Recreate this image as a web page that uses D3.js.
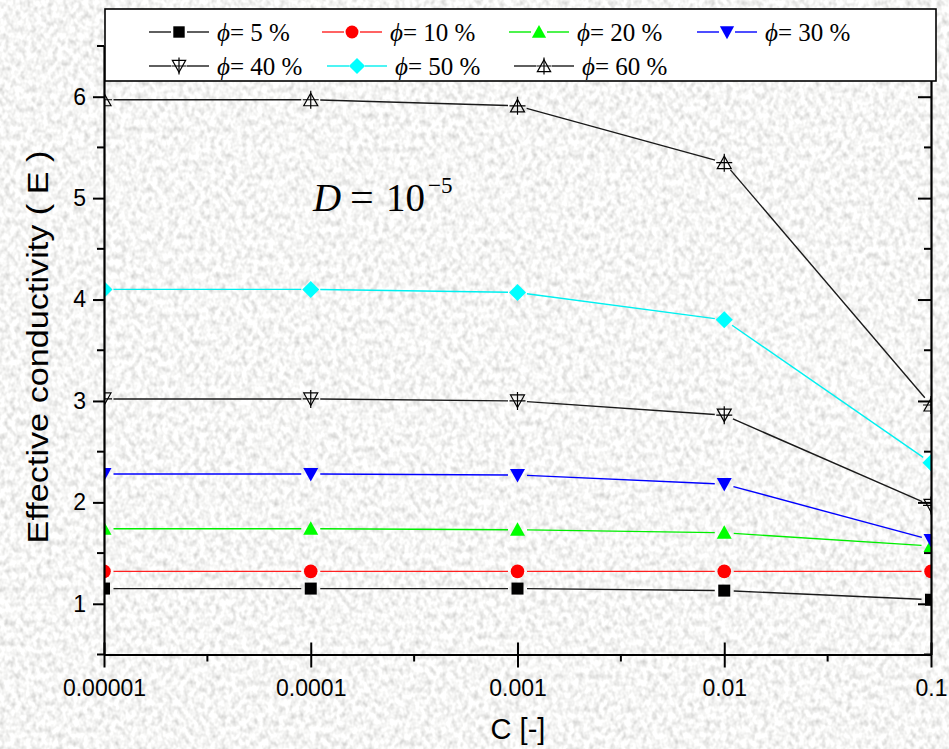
<!DOCTYPE html>
<html>
<head>
<meta charset="utf-8">
<script src="https://cdn.jsdelivr.net/npm/d3@7"></script>
<style>
  html, body { margin: 0; padding: 0; background: #e6e6e4; }
  svg { display: block; }
</style>
</head>
<body>
<svg id="chart" width="949" height="749"></svg>
<script>
// Concentration levels on the horizontal axis
const xLabels = ["0.00001", "0.0001", "0.001", "0.01", "0.1"];

// Effective conductivity for each porosity
const phi5  = [1.15, 1.15, 1.15, 1.13, 1.04];
const phi10 = [1.32, 1.32, 1.32, 1.32, 1.32];
const phi20 = [1.74, 1.74, 1.73, 1.70, 1.57];
const phi30 = [2.28, 2.28, 2.27, 2.18, 1.63];
const phi40 = [3.02, 3.02, 3.00, 2.86, 1.97];
const phi50 = [4.10, 4.10, 4.07, 3.80, 2.39];
const phi60 = [5.97, 5.97, 5.91, 5.35, 2.96];

const seriesNames = ["5", "10", "20", "30", "40", "50", "60"];
const yTicks = [1, 2, 3, 4, 5, 6];

const series = [
  { name: seriesNames[0], values: phi5,  color: "#000000", line: "#1a1a1a", shape: "square" },
  { name: seriesNames[1], values: phi10, color: "#ff0000", line: "#ff2020", shape: "circle" },
  { name: seriesNames[2], values: phi20, color: "#00ff00", line: "#00ee00", shape: "triUp" },
  { name: seriesNames[3], values: phi30, color: "#0000ff", line: "#0000ff", shape: "triDown" },
  { name: seriesNames[4], values: phi40, color: "#000000", line: "#1a1a1a", shape: "triDownOpen" },
  { name: seriesNames[5], values: phi50, color: "#00ffff", line: "#00f0f0", shape: "diamond" },
  { name: seriesNames[6], values: phi60, color: "#000000", line: "#1a1a1a", shape: "triUpOpen" }
];

const svg = d3.select("#chart");
const W = 949, H = 749;
const plot = { left: 104, right: 931, top: 46, bottom: 654.5 };

// Grainy paper background
const defs = svg.append("defs");
const grain = defs.append("filter").attr("id", "grain")
  .attr("x", 0).attr("y", 0).attr("width", "100%").attr("height", "100%");
grain.append("feTurbulence").attr("type", "fractalNoise")
  .attr("baseFrequency", "0.19 0.15").attr("numOctaves", 2).attr("seed", 7).attr("result", "n");
grain.append("feColorMatrix").attr("in", "n").attr("type", "matrix")
  .attr("values", "0.7 0 0 0 0.57  0.7 0 0 0 0.57  0.7 0 0 0 0.56  0 0 0 0 1");
svg.append("rect").attr("width", W).attr("height", H).attr("filter", "url(#grain)");

defs.append("clipPath").attr("id", "plotClip").append("rect")
  .attr("x", plot.left).attr("y", plot.top)
  .attr("width", plot.right - plot.left).attr("height", plot.bottom - plot.top);

const x = d3.scaleLinear().domain([0, xLabels.length - 1]).range([plot.left, plot.right]);
const y = d3.scaleLinear().domain([0.5, 6.5]).range([plot.bottom, plot.top]);

// Marker drawing
function drawMarker(g, shape, color, cx, cy, scale) {
  const s = scale || 1;
  if (shape === "square") {
    g.append("rect").attr("x", cx - 6 * s).attr("y", cy - 6 * s)
      .attr("width", 12 * s).attr("height", 12 * s).attr("fill", color);
  } else if (shape === "circle") {
    g.append("circle").attr("cx", cx).attr("cy", cy).attr("r", 6.8 * s).attr("fill", color);
  } else if (shape === "triUp") {
    g.append("path").attr("d", `M${cx},${cy - 7.5 * s}L${cx + 7.5 * s},${cy + 6 * s}L${cx - 7.5 * s},${cy + 6 * s}Z`)
      .attr("fill", color);
  } else if (shape === "triDown") {
    g.append("path").attr("d", `M${cx},${cy + 7.5 * s}L${cx + 7.5 * s},${cy - 6 * s}L${cx - 7.5 * s},${cy - 6 * s}Z`)
      .attr("fill", color);
  } else if (shape === "diamond") {
    g.append("path").attr("d", `M${cx},${cy - 8.5 * s}L${cx + 8.5 * s},${cy}L${cx},${cy + 8.5 * s}L${cx - 8.5 * s},${cy}Z`)
      .attr("fill", color);
  } else if (shape === "triUpOpen" || shape === "triDownOpen") {
    const d = shape === "triUpOpen" ? 1 : -1;
    g.append("path")
      .attr("d", `M${cx},${cy - 6.5 * d * s}L${cx + 7 * s},${cy + 6 * d * s}L${cx - 7 * s},${cy + 6 * d * s}Z`)
      .attr("fill", "none").attr("stroke", color).attr("stroke-width", 1.2);
    g.append("path")
      .attr("d", `M${cx},${cy - 9 * s}V${cy + 9 * s}M${cx - 8 * s},${cy}H${cx + 8 * s}`)
      .attr("fill", "none").attr("stroke", color).attr("stroke-width", 1.2);
  }
}

// Data lines with a small gap around each marker
const plotG = svg.append("g").attr("clip-path", "url(#plotClip)");
const gap = 9.5;
series.forEach(s => {
  const pts = s.values.map((v, i) => [x(i), y(v)]);
  const segs = d3.pairs(pts).map(([a, b]) => {
    const dx = b[0] - a[0], dy = b[1] - a[1];
    const len = Math.hypot(dx, dy);
    const ux = dx / len, uy = dy / len;
    return [[a[0] + ux * gap, a[1] + uy * gap], [b[0] - ux * gap, b[1] - uy * gap]];
  });
  plotG.append("g").selectAll("path").data(segs).join("path")
    .attr("d", d => d3.line()(d))
    .attr("fill", "none").attr("stroke", s.line).attr("stroke-width", 1.4);
});
series.forEach(s => {
  const mg = plotG.append("g");
  s.values.forEach((v, i) => drawMarker(mg, s.shape, s.color, x(i), y(v)));
});

// Axes
const tickFont = "'Liberation Sans', Arial, sans-serif";
const minorY = d3.range(0.5, 6.51, 1);
const minorX = d3.range(0.5, xLabels.length - 1, 1);

// left
const leftAxis = svg.append("g").attr("transform", `translate(${plot.left},0)`)
  .call(d3.axisLeft(y).tickValues(yTicks).tickFormat(d3.format("d")).tickSizeInner(11).tickSizeOuter(0));
leftAxis.selectAll("text").attr("x", -18).attr("font-size", 23).attr("font-family", tickFont).attr("fill", "#000");
leftAxis.append("g").selectAll("line").data(minorY).join("line")
  .attr("x1", -7).attr("x2", 0).attr("y1", d => y(d)).attr("y2", d => y(d)).attr("stroke", "#000").attr("stroke-width", 2);

// right
const rightAxis = svg.append("g").attr("transform", `translate(${plot.right},0)`)
  .call(d3.axisRight(y).tickValues(yTicks).tickFormat("").tickSizeInner(-13).tickSizeOuter(0));
rightAxis.append("g").selectAll("line").data(minorY).join("line")
  .attr("x1", -7).attr("x2", 0).attr("y1", d => y(d)).attr("y2", d => y(d)).attr("stroke", "#000").attr("stroke-width", 2);

// bottom
const bottomAxis = svg.append("g").attr("transform", `translate(0,${plot.bottom})`)
  .call(d3.axisBottom(x).tickValues(d3.range(xLabels.length)).tickFormat(i => xLabels[i]).tickSizeInner(13).tickSizeOuter(0));
bottomAxis.selectAll(".tick line").attr("y1", -12);
bottomAxis.selectAll("text").attr("y", 25).attr("font-size", 23).attr("font-family", tickFont).attr("fill", "#000");
bottomAxis.append("g").selectAll("line").data(minorX).join("line")
  .attr("x1", d => x(d)).attr("x2", d => x(d)).attr("y1", 0).attr("y2", 7).attr("stroke", "#000").attr("stroke-width", 2);

// top
svg.append("g").attr("transform", `translate(0,${plot.top})`)
  .call(d3.axisTop(x).tickValues([]).tickSizeOuter(0));

[leftAxis, rightAxis, bottomAxis].forEach(a => {
  a.select(".domain").attr("stroke", "#000").attr("stroke-width", 2.2);
  a.selectAll(".tick line").attr("stroke", "#000").attr("stroke-width", 2);
});

// Axis titles
svg.append("text")
  .attr("transform", `translate(48,347) rotate(-90) scale(1.18,1)`)
  .attr("text-anchor", "middle")
  .attr("font-family", tickFont).attr("font-size", 29).attr("fill", "#000")
  .text("Effective conductivity ( E )");
svg.append("text")
  .attr("x", 518).attr("y", 739).attr("text-anchor", "middle")
  .attr("font-family", tickFont).attr("font-size", 29).attr("fill", "#000")
  .text("C [-]");

// Annotation
const serif = "'Liberation Serif', 'Times New Roman', serif";
const ann = svg.append("g").attr("font-family", serif).attr("fill", "#000");
ann.append("text").attr("x", 313).attr("y", 211).attr("font-size", 39).attr("font-style", "italic").text("D");
ann.append("text").attr("x", 350).attr("y", 211).attr("font-size", 42).text("=");
ann.append("text").attr("x", 386).attr("y", 211).attr("font-size", 39).text("10");
ann.append("text").attr("x", 428).attr("y", 193).attr("font-size", 23).text("\u22125");

// Legend
const legend = svg.append("g");
legend.append("rect").attr("x", 105).attr("y", 9).attr("width", 831).attr("height", 72)
  .attr("fill", "#fff").attr("stroke", "#000").attr("stroke-width", 1.6);
const legendPos = [
  [149, 32], [322, 32], [509, 32], [697, 32],
  [149, 66], [327, 66], [514, 66]
];
series.forEach((s, i) => {
  const [lx, ly] = legendPos[i];
  const g = legend.append("g");
  g.append("line").attr("x1", lx).attr("x2", lx + 22).attr("y1", ly).attr("y2", ly)
    .attr("stroke", s.line).attr("stroke-width", 1.4);
  g.append("line").attr("x1", lx + 38).attr("x2", lx + 60).attr("y1", ly).attr("y2", ly)
    .attr("stroke", s.line).attr("stroke-width", 1.4);
  drawMarker(g, s.shape, s.color, lx + 30, ly, 0.95);
  const t = g.append("text").attr("x", lx + 68).attr("y", ly + 9)
    .attr("font-family", serif).attr("font-size", 25).attr("fill", "#000");
  t.append("tspan").attr("font-style", "italic").text("\u03d5");
  t.append("tspan").text("= " + s.name + " %");
});
</script>
</body>
</html>
